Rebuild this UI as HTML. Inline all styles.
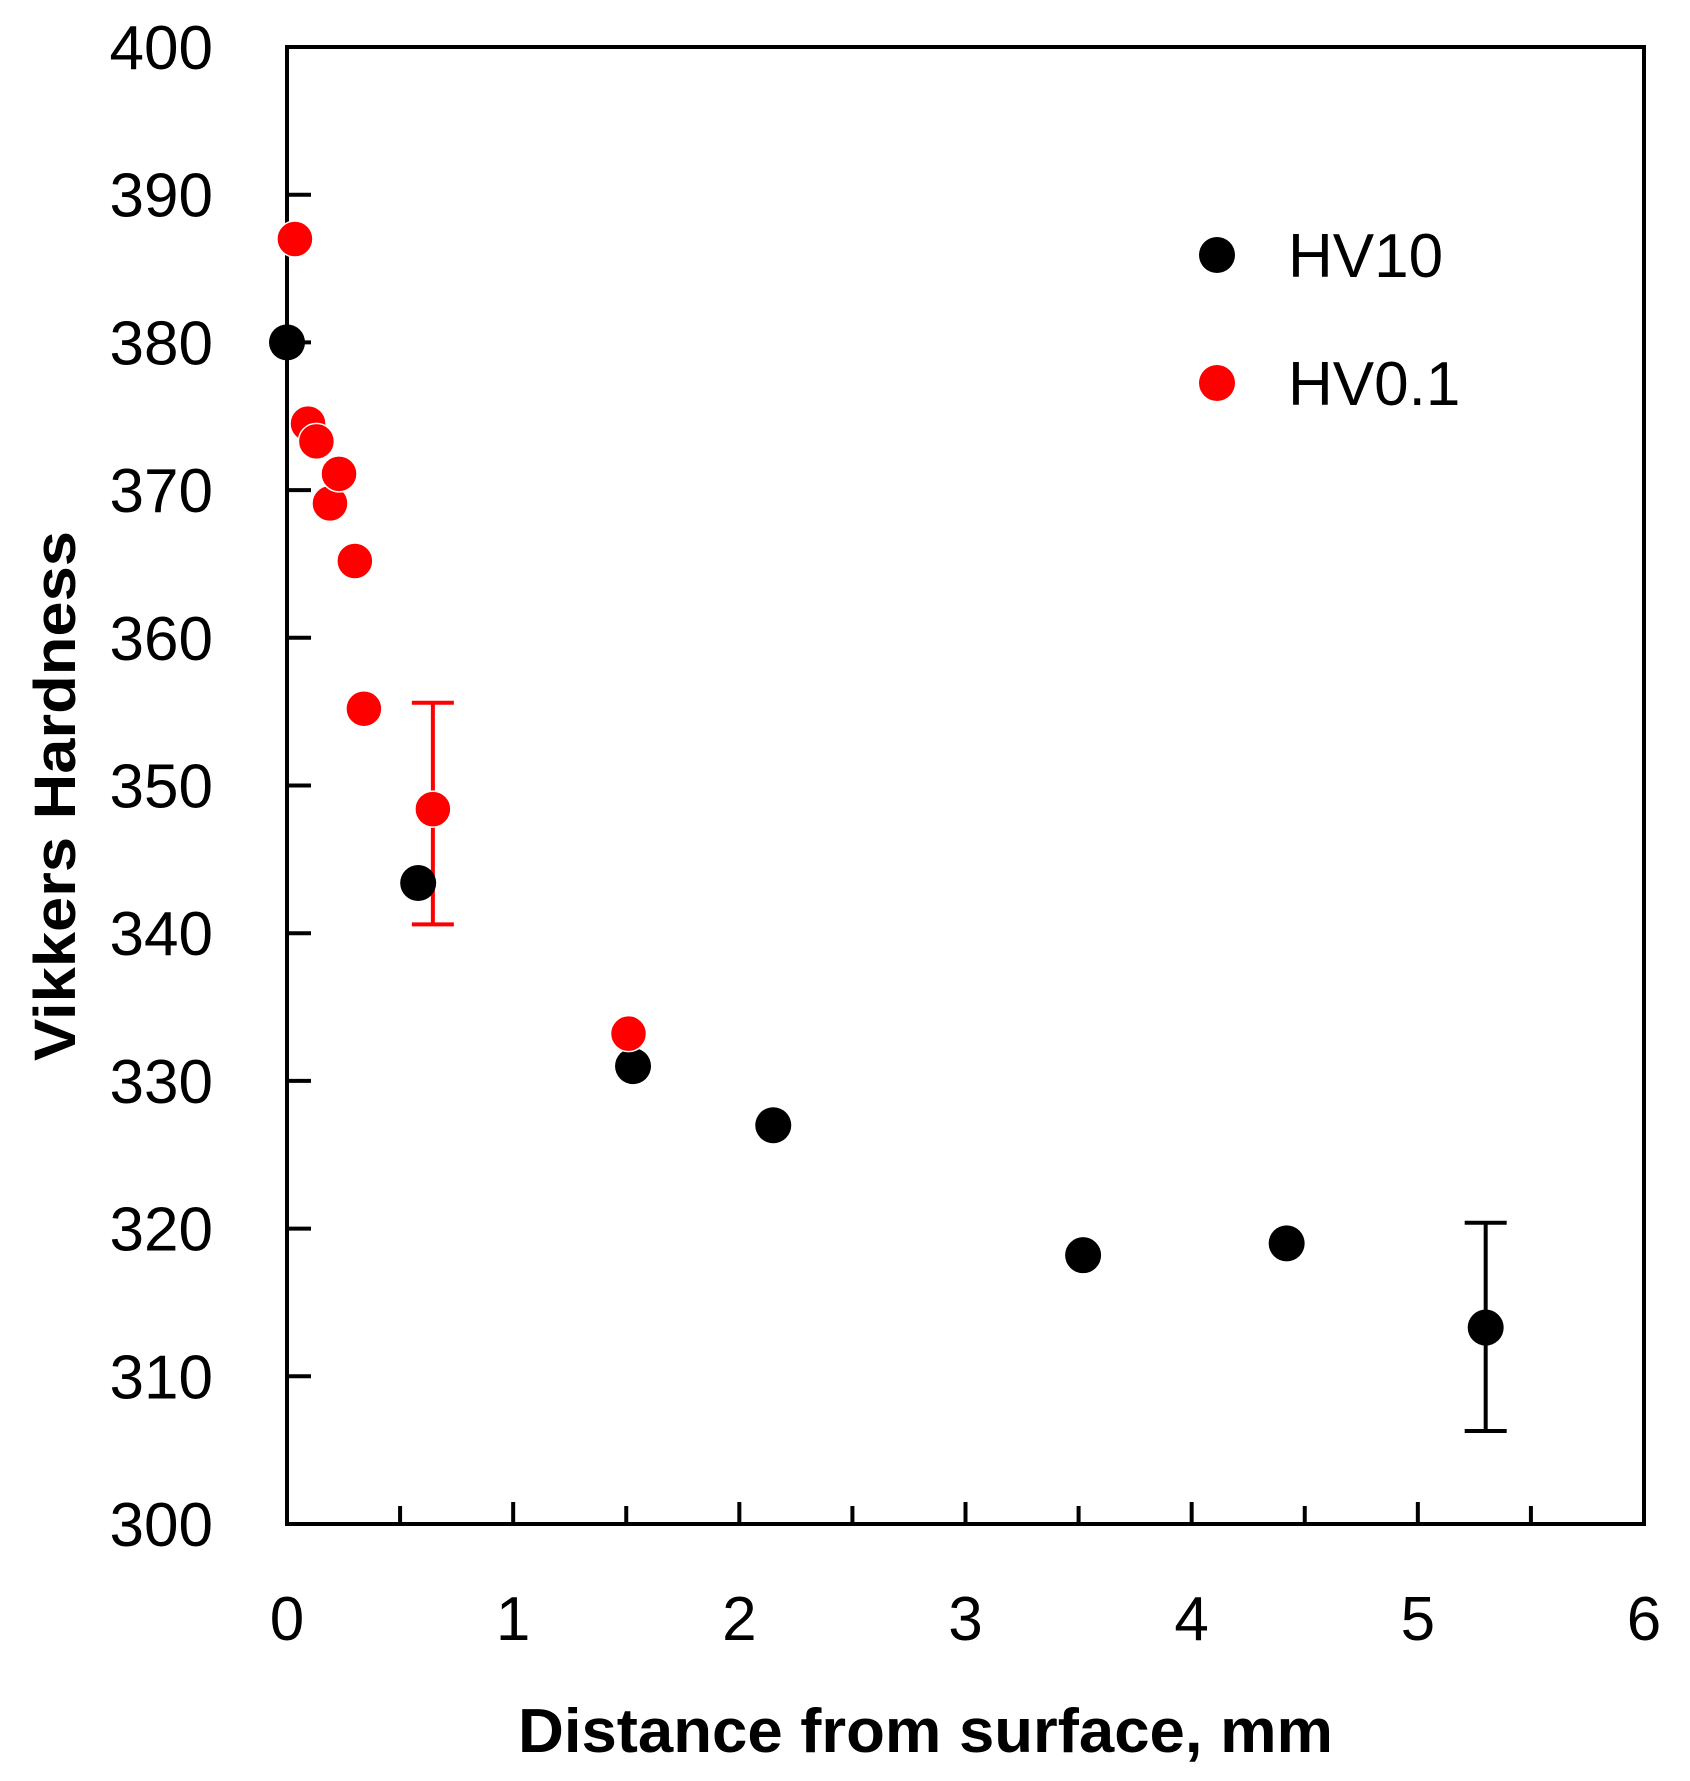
<!DOCTYPE html>
<html><head><meta charset="utf-8"><style>html,body{margin:0;padding:0;background:#fff}svg{display:block}</style></head>
<body>
<svg id="chart" width="1690" height="1781" viewBox="0 0 1690 1781" xmlns="http://www.w3.org/2000/svg" font-family="Liberation Sans, sans-serif">
<g id="axes"></g>
<g id="marks"></g>
<g>
<circle cx="1217" cy="255" r="18" fill="#000"/>
<text x="1288" y="277" font-size="62" fill="#000">HV10</text>
<circle cx="1217" cy="383" r="18" fill="#f00"/>
<text x="1288" y="405" font-size="62" fill="#000">HV0.1</text>
</g>
<text x="518" y="1752" font-size="62" font-weight="bold" textLength="815" lengthAdjust="spacingAndGlyphs">Distance from surface, mm</text>
<text transform="translate(75,796) rotate(-90)" text-anchor="middle" font-size="58" font-weight="bold" textLength="530" lengthAdjust="spacingAndGlyphs">Vikkers Hardness</text>
</svg>
<script>
const xTicks = [0,1,2,3,4,5,6];
const yTicks = [300,310,320,330,340,350,360,370,380,390,400];
const hv10X = [0, 0.58, 1.53, 2.15, 3.52, 4.42, 5.30];
const hv10Y = [380, 343.4, 331, 327, 318.2, 319, 313.3];
const hv01X = [0.035, 0.093, 0.13, 0.19, 0.23, 0.30, 0.34, 0.645, 1.51];
const hv01Y = [387, 374.5, 373.3, 369.1, 371.1, 365.2, 355.2, 348.4, 333.2];
const hv10Err = {index: 6, lo: 306.3, hi: 320.4};
const hv01Err = {index: 7, lo: 340.6, hi: 355.6};

const L=287,R=1644,T=47,B=1524;
const sx=v=>L+(v-0)/6*(R-L);
const sy=v=>B-(v-300)/100*(B-T);
const NS='http://www.w3.org/2000/svg';
function mk(tag,attrs,parent){const e=document.createElementNS(NS,tag);for(const k in attrs)e.setAttribute(k,attrs[k]);parent.appendChild(e);return e;}
const axes=document.getElementById('axes');
const marks=document.getElementById('marks');
let f=mk('rect',{x:L,y:T,width:R-L,height:B-T,fill:'none',stroke:'#000','stroke-width':4},axes);


xTicks.forEach((t,i)=>{
  let l=mk('line',{x1:sx(t),x2:sx(t),y1:B,y2:B-22,stroke:'#000','stroke-width':4},axes);
  
  
  if(i<xTicks.length-1){
    let m=mk('line',{x1:sx(t+0.5),x2:sx(t+0.5),y1:B,y2:B-18,stroke:'#000','stroke-width':4},axes);
    
    
  }
  let tx=mk('text',{x:sx(t),y:1640,'text-anchor':'middle','font-size':62},axes);
  tx.textContent=t;
  
  
});
yTicks.forEach(t=>{
  let l=mk('line',{x1:L,x2:L+24,y1:sy(t),y2:sy(t),stroke:'#000','stroke-width':4},axes);
  
  
  let tx=mk('text',{x:213,y:sy(t)+22,'text-anchor':'end','font-size':62},axes);
  tx.textContent=t;
  
  
});
function errbar(x,lo,hi,col){
  const g=mk('g',{stroke:col,'stroke-width':4},marks);
  
  
  mk('line',{x1:sx(x),x2:sx(x),y1:sy(lo),y2:sy(hi)},g);
  mk('line',{x1:sx(x)-21,x2:sx(x)+21,y1:sy(lo),y2:sy(lo)},g);
  mk('line',{x1:sx(x)-21,x2:sx(x)+21,y1:sy(hi),y2:sy(hi)},g);
}
errbar(hv01X[hv01Err.index],hv01Err.lo,hv01Err.hi,'#f00');
errbar(hv10X[hv10Err.index],hv10Err.lo,hv10Err.hi,'#000');
hv10X.forEach((x,i)=>{
  let c=mk('circle',{cx:sx(x),cy:sy(hv10Y[i]),r:18,fill:'#000'},marks);
  
  
});
hv01X.forEach((x,i)=>{
  let c=mk('circle',{cx:sx(x),cy:sy(hv01Y[i]),r:18,fill:'#f00',stroke:'#fff','stroke-width':1.5},marks);
  
  
});
</script>
</body></html>
